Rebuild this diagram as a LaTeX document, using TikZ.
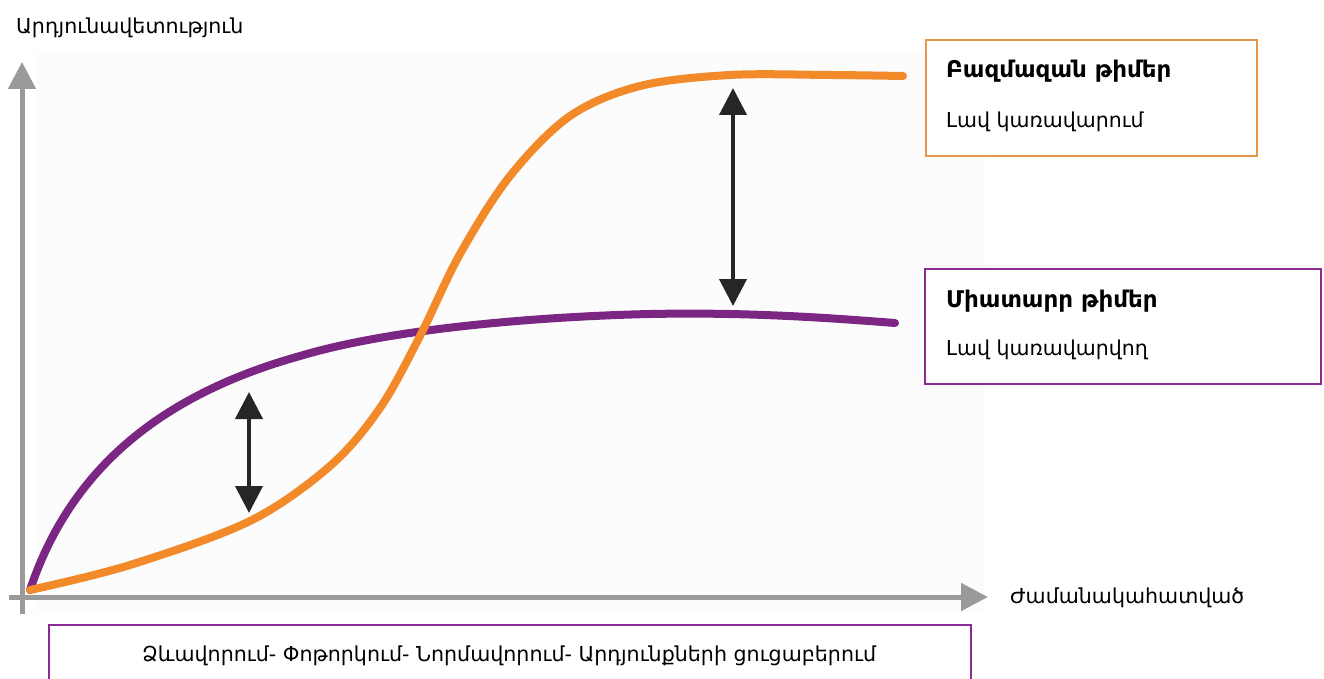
\documentclass[tikz,border=0pt]{standalone}
\usepackage{fontspec}
\setmainfont{DejaVu Sans}
\usetikzlibrary{arrows.meta}
\definecolor{axisgray}{HTML}{9A9A9A}
\definecolor{orng}{HTML}{F28A2A}
\definecolor{purp}{HTML}{7A2682}
\definecolor{orngbox}{HTML}{E8964E}
\definecolor{purpbox}{HTML}{8A2A92}
\tikzset{
  axis/.style={draw=axisgray, line width=5pt, -{Triangle[width=27pt,length=27pt]}},
  curve/.style={line width=8pt, line cap=round},
  gap/.style={draw=black!85, line width=4pt, {Triangle[width=27pt,length=27pt]}-{Triangle[width=27pt,length=27pt]}},
  legend/.style={draw, line width=2pt, fill=white, inner sep=0pt, anchor=north west},
  title/.style={font=\bfseries\fontsize{23}{27}\selectfont, anchor=west, inner sep=0pt},
  sub/.style={font=\fontsize{20.5}{24}\selectfont, anchor=west, inner sep=0pt},
  lab/.style={font=\fontsize{20.6}{24}\selectfont, inner sep=0pt}
}
\begin{document}
\begin{tikzpicture}[x=1pt,y=-1pt]
\useasboundingbox (0,0) rectangle (1324,679);
\fill[gray!2] (36,52) rectangle (985,612);
% axes
\coordinate (yb) at (22,614);
\coordinate (yt) at (22,62);
\coordinate (xl) at (9,597);
\coordinate (xr) at (988,597);
\draw[axis] (yb) -- (yt);
\draw[axis] (xl) -- (xr);
\node[lab, anchor=west] (ylab) at (16,28) {Արդյունավետություն};
\node[lab, anchor=west] (xlab) at (1010,598) {Ժամանակահատված};
% curves
\draw[curve, purp] (30,590) .. controls (70,470) and (160,395) .. (300,356)
  .. controls (400,326) and (560,316) .. (650,314)
  .. controls (750,312) and (830,318) .. (895,323);
\draw[curve, orng] plot[smooth, tension=0.55] coordinates {(30,590) (130,565) (250,521) (330,466) (380,408) (420,336) (460,254) (510,176) (570,116) (640,86) (730,75) (830,75) (903,76)};
% gap arrows
\coordinate (a1t) at (249,392);
\coordinate (a1b) at (249,513);
\coordinate (a2t) at (733,88);
\coordinate (a2b) at (733,306);
\draw[gap] (a1t) -- (a1b);
\draw[gap] (a2t) -- (a2b);
% legend boxes
\node[legend, draw=orngbox, minimum width=331pt, minimum height=116pt] (hetero) at (925,39) {};
\node[title] (heterot) at (946,71) {Բազմազան թիմեր};
\node[sub] (heteros) at (946,122) {Լավ կառավարում};
\node[legend, draw=purpbox, minimum width=396pt, minimum height=115pt] (homo) at (924,268) {};
\node[title] (homot) at (946,301) {Միատարր թիմեր};
\node[sub] (homos) at (946,350) {Լավ կառավարվող};
% stages box
\node[legend, draw=purpbox, minimum width=922pt, minimum height=80pt] (stages) at (48,624) {};
\node[lab] (stagest) at (509,656) {Ձևավորում- Փոթորկում- Նորմավորում- Արդյունքների ցուցաբերում};
\end{tikzpicture}
\end{document}
